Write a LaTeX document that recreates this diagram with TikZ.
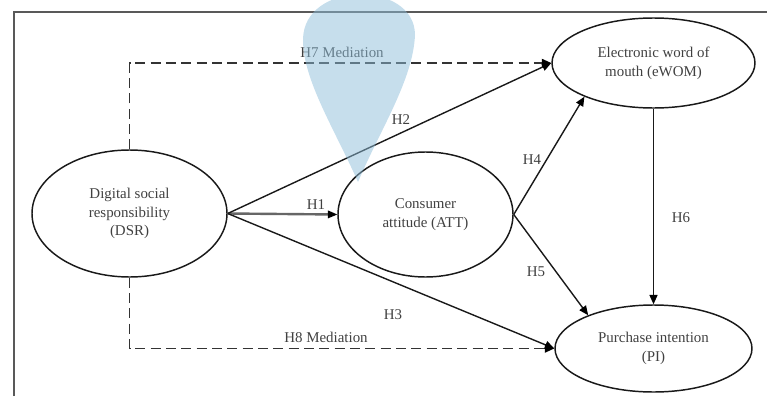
\documentclass[tikz,border=0pt]{standalone}
\usepackage{fontspec}
\setmainfont{Liberation Serif}
\usetikzlibrary{arrows.meta,shapes.geometric}
\definecolor{pinblue}{RGB}{141,189,217}
\begin{document}
\begin{tikzpicture}[x=0.75pt,y=-0.75pt,
  construct/.style={draw=black!90, line width=1.1pt, ellipse, inner sep=0pt,
    align=center, text=black!75, font=\fontsize{11.2}{14}\selectfont},
  tip/.style={-{Triangle[length=7pt,width=6pt,black]}},
  hyppath/.style={draw=black!90, line width=1.05pt, tip},
  direct/.style={draw=black!60, line width=1.8pt, -{Triangle[length=7pt,width=6pt,line width=0pt,black]}},
  mediation/.style={draw=black!80, line width=1.3pt, dash pattern=on 7.5pt off 4pt, tip},
  hlabel/.style={text=black!75, font=\fontsize{11.2}{14}\selectfont, inner sep=1pt}]
\useasboundingbox (0,0) rectangle (767,396);

% frame
\draw[gray!70!black, line width=1.3pt] (14,396) -- (14,12) -- (767,12);

% constructs
\node[construct, minimum width=146.25pt, minimum height=95.25pt] (DSR) at (129.5,213.5)
  {Digital social\\responsibility\\(DSR)};
\node[construct, minimum width=131.25pt, minimum height=93.75pt] (ATT) at (425.5,214.5)
  {Consumer\\attitude (ATT)};
\node[construct, minimum width=152.25pt, minimum height=67.5pt] (EWOM) at (653.5,63)
  {Electronic word of\\mouth (eWOM)};
\node[construct, minimum width=147.75pt, minimum height=65.25pt] (PI) at (653.5,348.5)
  {Purchase intention\\(PI)};

% hypothesised paths
\draw[direct] (DSR.east) -- (ATT.west);
\draw[hyppath] (DSR.east) -- (EWOM.west);
\draw[hyppath] (DSR.east) -- (PI.west);
\draw[hyppath] (ATT.east) -- (EWOM.206);
\draw[hyppath] (ATT.east) -- (PI.153);
\draw[hyppath] (EWOM.south) -- (PI.north);
\draw[mediation] (DSR.north) |- (EWOM.west);
\draw[mediation] (DSR.south) |- (PI.west);

% path labels
\node[hlabel] (h1) at (316,205) {H1};
\node[hlabel] (h2) at (401,120) {H2};
\node[hlabel] (h3) at (393,315) {H3};
\node[hlabel] (h4) at (532,160) {H4};
\node[hlabel] (h5) at (536,272) {H5};
\node[hlabel] (h6) at (681,218) {H6};
\node[hlabel] (h7) at (342,52) {H7 Mediation};
\node[hlabel] (h8) at (326,337) {H8 Mediation};

% translucent marker drop
\fill[pinblue, fill opacity=0.5]
  (358,182) .. controls (335,130) and (303,80) .. (303,40)
  .. controls (303,-20) and (415,-20) .. (415,35)
  .. controls (413,80) and (380,130) .. (358,182) -- cycle;
\end{tikzpicture}
\end{document}
